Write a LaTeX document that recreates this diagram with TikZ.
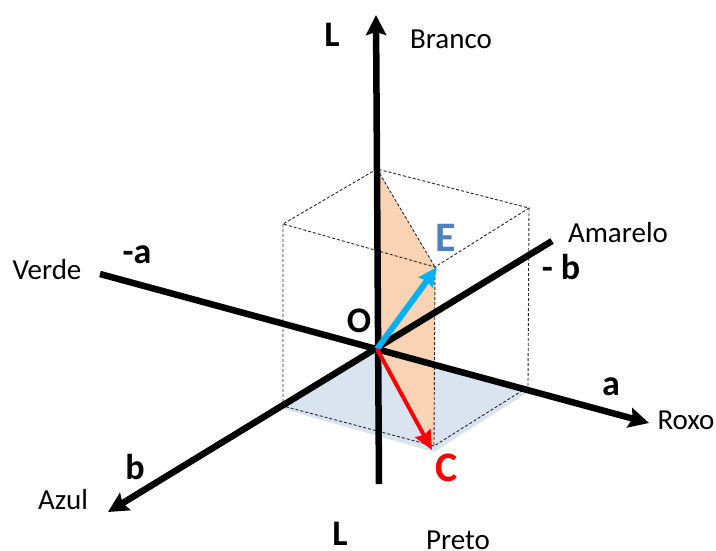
\documentclass[tikz,border=0pt]{standalone}
\usepackage{fontspec}
\setmainfont{Carlito}
\usetikzlibrary{arrows.meta,calc}
\definecolor{PlanoAzul}{HTML}{DAE3F0}
\definecolor{PlanoLaranja}{HTML}{F9D3B4}
\definecolor{SetaAzul}{HTML}{00B0F0}
\definecolor{LetraAzul}{HTML}{4F81BD}
\begin{document}
\begin{tikzpicture}[
    x=1pt, y=-1pt,
    eixo/.style={line width=6.5pt, -{Stealth[length=20pt,width=20pt,inset=3pt]}},
    aresta/.style={dashed, dash pattern=on 3pt off 2pt, line width=0.9pt, black!85},
    vetor/.style={line width=#1, -{Stealth[length=19pt,width=17pt,inset=2pt]}},
    cor/.style={font=\fontsize{29}{32}\selectfont, inner sep=0pt},
    eixolabel/.style={font=\fontsize{36}{40}\selectfont\bfseries, inner sep=0pt},
    letra/.style={font=\fontsize{42}{46}\selectfont\bfseries, inner sep=0pt}
]
  \useasboundingbox (0,0) rectangle (716,550);

  % -------------------------------------------------------------
  % VERTICES DO CUBO
  % -------------------------------------------------------------
  \coordinate (O) at (377,349);
  \coordinate (topo) at (377,169);
  \coordinate (topo_e) at (283,224);
  \coordinate (topo_d) at (529,208);
  \coordinate (E_pt) at (435,267);
  \coordinate (base_e) at (283,406);
  \coordinate (base_d) at (528,387);
  \coordinate (C_pt) at (434,446);

  % -------------------------------------------------------------
  % PLANOS
  % -------------------------------------------------------------
  \fill[PlanoAzul] (O) -- (280,408) -- (434,452) -- (530,391) -- cycle;
  \fill[PlanoLaranja] (topo) -- (E_pt) -- (C_pt) -- (O) -- cycle;

  % -------------------------------------------------------------
  % ARESTAS
  % -------------------------------------------------------------
  \draw[aresta] (topo) -- (topo_e) -- (E_pt) -- (topo_d) -- cycle;
  \draw[aresta] (topo) -- (E_pt);
  \draw[aresta] (topo_e) -- (base_e) -- (C_pt) -- (base_d) -- (topo_d);
  \draw[aresta] (E_pt) -- (C_pt);

  % -------------------------------------------------------------
  % EIXOS
  % -------------------------------------------------------------
  \coordinate (L_base) at (379,484);
  \coordinate (L_topo) at (376,15);
  \coordinate (a_neg) at (100,274);
  \coordinate (a_pos) at (649,423);
  \coordinate (b_neg) at (552,241);
  \coordinate (b_pos) at (108,512);
  \draw[eixo] (L_base) -- (L_topo);
  \draw[eixo] (a_neg) -- (a_pos);
  \draw[eixo] (b_neg) -- (b_pos);

  % vetores
  \draw[vetor=6pt, SetaAzul] (O) -- (437,267);
  \draw[vetor=4pt, red] (O) -- (432,450);

  % -------------------------------------------------------------
  % TEXTOS
  % -------------------------------------------------------------
  \node[eixolabel] (lbl_L1) at (332,35) {L};
  \node[eixolabel] (lbl_L2) at (340,534) {L};
  \node[cor] (lbl_branco) at (451,39) {Branco};
  \node[cor] (lbl_preto) at (458,540) {Preto};
  \node[cor] (lbl_verde) at (47,270) {Verde};
  \node[cor] (lbl_azul) at (63,500) {Azul};
  \node[cor] (lbl_roxo) at (686,420) {Roxo};
  \node[cor] (lbl_amarelo) at (618,233) {Amarelo};
  \node[eixolabel] (lbl_aneg) at (137,255) {-a};
  \node[eixolabel] (lbl_a) at (611,387) {a};
  \node[eixolabel] (lbl_b) at (135,467) {b};
  \node[eixolabel] (lbl_bneg) at (561,267) {- b};
  \node[eixolabel] (lbl_O) at (359,321) {O};
  \node[letra, text=LetraAzul] (lbl_E) at (446,238) {E};
  \node[letra, text=red] (lbl_C) at (447,468) {C};
\end{tikzpicture}
\end{document}
